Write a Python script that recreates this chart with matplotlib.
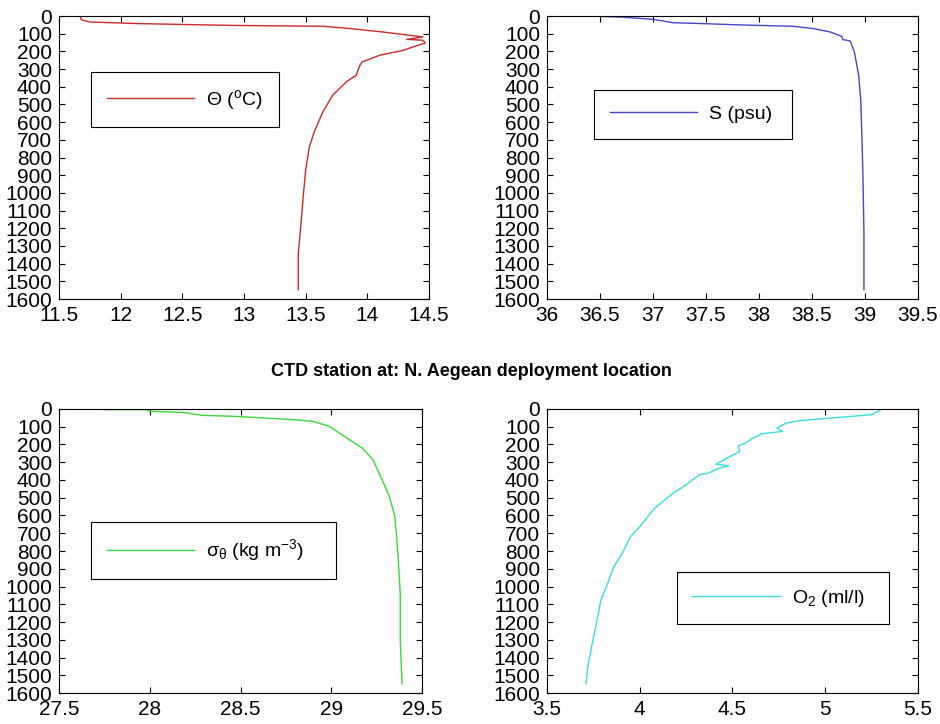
import matplotlib
matplotlib.use('Agg')
import matplotlib.pyplot as plt

plt.rcParams['font.family'] = ['Liberation Sans', 'DejaVu Sans']
plt.rcParams['mathtext.fontset'] = 'custom'
plt.rcParams['mathtext.rm'] = 'Liberation Sans'
plt.rcParams['mathtext.it'] = 'Liberation Sans:italic'
plt.rcParams['mathtext.bf'] = 'Liberation Sans:bold'

# Potential temperature profile (depth in m, theta in deg C)
theta_depth = [0, 0, 21, 34, 43, 53, 56, 58, 71, 90, 118, 132, 137, 152, 175, 194,
               222, 259, 278, 335, 372, 447, 541, 654, 739, 870, 1020, 1190, 1340, 1547]
theta = [11.55, 11.67, 11.68, 11.75, 12.15, 12.88, 13.32, 13.64, 13.86, 14.12, 14.45,
         14.32, 14.45, 14.47, 14.37, 14.29, 14.10, 13.96, 13.94, 13.91, 13.83, 13.72,
         13.64, 13.57, 13.53, 13.50, 13.48, 13.46, 13.44, 13.44]

# Salinity profile
sal_depth = [0, 6, 19, 38, 43, 51, 58, 71, 90, 115, 133, 141, 203, 335, 476, 663,
             889, 1227, 1547]
sal = [36.38, 36.70, 37.00, 37.19, 37.47, 37.85, 38.32, 38.51, 38.67, 38.78, 38.79,
       38.86, 38.90, 38.94, 38.96, 38.97, 38.98, 38.99, 38.99]

# Potential density anomaly profile
sig_depth = [4, 4, 13, 19, 36, 41, 51, 60, 70, 98, 126, 173, 220, 286, 399, 493,
             606, 719, 870, 1040, 1303, 1548]
sig = [27.75, 27.98, 28.00, 28.18, 28.29, 28.46, 28.64, 28.79, 28.90, 28.99, 29.03,
       29.10, 29.17, 29.23, 29.28, 29.32, 29.35, 29.36, 29.37, 29.38, 29.38, 29.39]

# Dissolved oxygen profile
o2_depth = [4, 32, 45, 56, 66, 79, 107, 126, 139, 164, 192, 207, 239, 277, 311, 320,
            333, 361, 371, 427, 475, 559, 663, 719, 804, 889, 1002, 1077, 1190, 1341,
            1454, 1548]
o2 = [5.30, 5.25, 5.10, 4.97, 4.86, 4.79, 4.74, 4.77, 4.66, 4.61, 4.57, 4.53, 4.54,
      4.47, 4.41, 4.48, 4.43, 4.37, 4.32, 4.25, 4.18, 4.08, 4.00, 3.95, 3.91, 3.86,
      3.82, 3.79, 3.77, 3.74, 3.72, 3.71]

y_ticks = list(range(0, 1700, 100))

fig = plt.figure(figsize=(9.4, 7.24), dpi=100)

panels = [
    # (axes rect, x, depth, color, label, xlim, xticks, legend box)
    ([0.0628, 0.587, 0.3936, 0.3909], theta, theta_depth, '#cc2a2a',
     r'$\Theta$ ($^{\rm o}$C)', (11.5, 14.5), [11.5, 12, 12.5, 13, 13.5, 14, 14.5],
     (0.0865, 0.802, 0.508)),
    ([0.5819, 0.587, 0.3947, 0.3909], sal, sal_depth, '#4646c8',
     'S (psu)', (36, 39.5), [36, 36.5, 37, 37.5, 38, 38.5, 39, 39.5],
     (0.1267, 0.7385, 0.534)),
    ([0.0628, 0.0428, 0.3862, 0.3923], sig, sig_depth, '#3ad83a',
     r'$\mathrm{\sigma}_{\mathrm{\theta}}$ (kg m$^{\mathrm{-3}}$)', (27.5, 29.5),
     [27.5, 28, 28.5, 29, 29.5], (0.088, 0.602, 0.675)),
    ([0.5819, 0.0428, 0.3947, 0.3923], o2, o2_depth, '#3ddcdc',
     r'O$_2$ (ml/l)', (3.5, 5.5), [3.5, 4, 4.5, 5, 5.5],
     (0.350, 0.426, 0.571)),
]

for rect, xs, ds, col, lab, xl, xt, lb in panels:
    ax = fig.add_axes(rect)
    ax.plot(xs, ds, color=col, lw=1.0, label=lab)
    ax.set_xlim(xl)
    ax.set_ylim(1600, 0)
    ax.set_xticks(xt)
    ax.set_xticklabels(['%g' % v for v in xt])
    ax.set_yticks(y_ticks)
    ax.tick_params(direction='in', top=True, right=True, length=4,
                   labelsize=15, width=0.8)
    ax.tick_params(axis='x', pad=5)
    ax.tick_params(axis='y', pad=5)
    for s in ax.spines.values():
        s.set_linewidth(0.8)
    leg = ax.legend(loc='upper left', bbox_to_anchor=(lb[0], lb[1], lb[2], 0),
                    mode='expand', borderaxespad=0, fancybox=False,
                    framealpha=1, edgecolor='black', fontsize=14,
                    handlelength=4.5, handletextpad=0.6, borderpad=0.8)
    leg.get_frame().set_linewidth(0.8)

fig.text(0.502, 1 - 372 / 724, 'CTD station at: N. Aegean deployment location',
         ha='center', va='center', fontsize=13, fontweight='bold')

fig.savefig('out.png', dpi=100)
